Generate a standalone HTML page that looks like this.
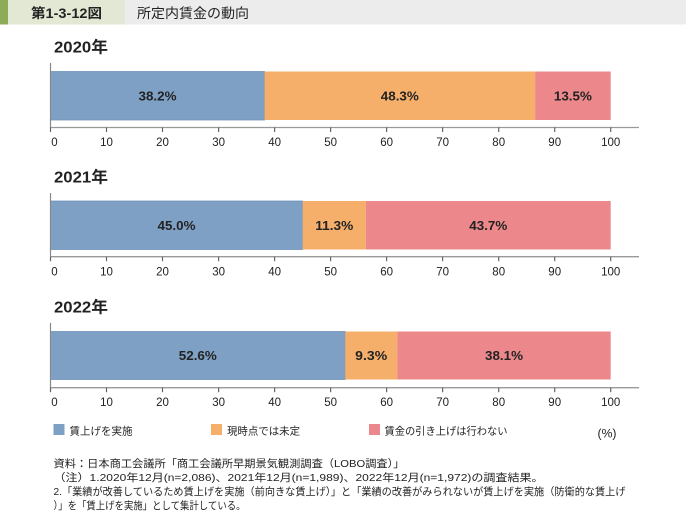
<!DOCTYPE html>
<html>
<head>
<meta charset="utf-8">
<style>
  html,body{margin:0;padding:0;background:#fff;}
  svg{display:block;}
  text{font-family:"Liberation Sans","Noto Sans CJK JP",sans-serif;fill:#222;}
</style>
</head>
<body>
<svg width="687" height="513" viewBox="0 0 687 513" xmlns="http://www.w3.org/2000/svg">
  <!-- header -->
  <rect x="0" y="0" width="8" height="24.5" fill="#8dab58"/>
  <rect x="8" y="0" width="117" height="24.5" fill="#e2e8d3"/>
  <rect x="125" y="0" width="561" height="24.5" fill="#ebeceb"/>
  <text x="31" y="18" font-size="13.5" font-weight="bold" textLength="71" lengthAdjust="spacingAndGlyphs">第1-3-12図</text>
  <text x="137" y="18" font-size="13.5" textLength="112" lengthAdjust="spacingAndGlyphs">所定内賃金の動向</text>

  <!-- Chart 2020 -->
  <text x="54" y="52.5" font-size="16" font-weight="bold" textLength="54" lengthAdjust="spacingAndGlyphs">2020年</text>
  <rect x="50.5" y="71.5" width="214" height="48.5" fill="#7fa0c5" stroke="#7293bb" stroke-width="0.8"/>
  <rect x="264.5" y="71.5" width="270.6" height="48.5" fill="#f5af6b"/>
  <rect x="535.1" y="71.5" width="75.6" height="48.5" fill="#ec888b"/>
  <text x="157.5" y="100.3" font-size="13" font-weight="bold" text-anchor="middle" textLength="38" lengthAdjust="spacingAndGlyphs">38.2%</text>
  <text x="399.8" y="100.3" font-size="13" font-weight="bold" text-anchor="middle" textLength="38" lengthAdjust="spacingAndGlyphs">48.3%</text>
  <text x="572.9" y="100.3" font-size="13" font-weight="bold" text-anchor="middle" textLength="38" lengthAdjust="spacingAndGlyphs">13.5%</text>
  <line x1="50.5" y1="63" x2="50.5" y2="128" stroke="#888" stroke-width="1.2"/>
  <line x1="50.5" y1="127.5" x2="639" y2="127.5" stroke="#999" stroke-width="1.3"/>
  <g stroke="#666" stroke-width="1.2">
    <line x1="50.5" y1="127.5" x2="50.5" y2="132"/>
    <line x1="106.5" y1="127.5" x2="106.5" y2="132"/>
    <line x1="162.5" y1="127.5" x2="162.5" y2="132"/>
    <line x1="218.6" y1="127.5" x2="218.6" y2="132"/>
    <line x1="274.6" y1="127.5" x2="274.6" y2="132"/>
    <line x1="330.6" y1="127.5" x2="330.6" y2="132"/>
    <line x1="386.6" y1="127.5" x2="386.6" y2="132"/>
    <line x1="442.6" y1="127.5" x2="442.6" y2="132"/>
    <line x1="498.7" y1="127.5" x2="498.7" y2="132"/>
    <line x1="554.7" y1="127.5" x2="554.7" y2="132"/>
    <line x1="610.7" y1="127.5" x2="610.7" y2="132"/>
  </g>
  <g font-size="11.5" text-anchor="middle">
    <text x="54.5" y="146">0</text>
    <text x="106.5" y="146">10</text>
    <text x="162.5" y="146">20</text>
    <text x="218.6" y="146">30</text>
    <text x="274.6" y="146">40</text>
    <text x="330.6" y="146">50</text>
    <text x="386.6" y="146">60</text>
    <text x="442.6" y="146">70</text>
    <text x="498.7" y="146">80</text>
    <text x="554.7" y="146">90</text>
    <text x="610.7" y="146">100</text>
  </g>

  <!-- Chart 2021 -->
  <text x="54" y="182.5" font-size="16" font-weight="bold" textLength="54" lengthAdjust="spacingAndGlyphs">2021年</text>
  <rect x="50.5" y="201" width="252.1" height="48.5" fill="#7fa0c5" stroke="#7293bb" stroke-width="0.8"/>
  <rect x="302.6" y="201" width="63.3" height="48.5" fill="#f5af6b"/>
  <rect x="365.9" y="201" width="244.8" height="48.5" fill="#ec888b"/>
  <text x="176.5" y="229.8" font-size="13" font-weight="bold" text-anchor="middle" textLength="38" lengthAdjust="spacingAndGlyphs">45.0%</text>
  <text x="334.3" y="229.8" font-size="13" font-weight="bold" text-anchor="middle" textLength="38" lengthAdjust="spacingAndGlyphs">11.3%</text>
  <text x="488.3" y="229.8" font-size="13" font-weight="bold" text-anchor="middle" textLength="38" lengthAdjust="spacingAndGlyphs">43.7%</text>
  <line x1="50.5" y1="193" x2="50.5" y2="257.2" stroke="#888" stroke-width="1.2"/>
  <line x1="50.5" y1="256.7" x2="639" y2="256.7" stroke="#999" stroke-width="1.3"/>
  <g stroke="#666" stroke-width="1.2">
    <line x1="50.5" y1="256.7" x2="50.5" y2="261.2"/>
    <line x1="106.5" y1="256.7" x2="106.5" y2="261.2"/>
    <line x1="162.5" y1="256.7" x2="162.5" y2="261.2"/>
    <line x1="218.6" y1="256.7" x2="218.6" y2="261.2"/>
    <line x1="274.6" y1="256.7" x2="274.6" y2="261.2"/>
    <line x1="330.6" y1="256.7" x2="330.6" y2="261.2"/>
    <line x1="386.6" y1="256.7" x2="386.6" y2="261.2"/>
    <line x1="442.6" y1="256.7" x2="442.6" y2="261.2"/>
    <line x1="498.7" y1="256.7" x2="498.7" y2="261.2"/>
    <line x1="554.7" y1="256.7" x2="554.7" y2="261.2"/>
    <line x1="610.7" y1="256.7" x2="610.7" y2="261.2"/>
  </g>
  <g font-size="11.5" text-anchor="middle">
    <text x="54.5" y="275.5">0</text>
    <text x="106.5" y="275.5">10</text>
    <text x="162.5" y="275.5">20</text>
    <text x="218.6" y="275.5">30</text>
    <text x="274.6" y="275.5">40</text>
    <text x="330.6" y="275.5">50</text>
    <text x="386.6" y="275.5">60</text>
    <text x="442.6" y="275.5">70</text>
    <text x="498.7" y="275.5">80</text>
    <text x="554.7" y="275.5">90</text>
    <text x="610.7" y="275.5">100</text>
  </g>

  <!-- Chart 2022 -->
  <text x="54" y="312.5" font-size="16" font-weight="bold" textLength="54" lengthAdjust="spacingAndGlyphs">2022年</text>
  <rect x="50.5" y="331.5" width="294.7" height="48" fill="#7fa0c5" stroke="#7293bb" stroke-width="0.8"/>
  <rect x="345.2" y="331.5" width="52.1" height="48" fill="#f5af6b"/>
  <rect x="397.3" y="331.5" width="213.4" height="48" fill="#ec888b"/>
  <text x="197.8" y="360" font-size="13" font-weight="bold" text-anchor="middle" textLength="38" lengthAdjust="spacingAndGlyphs">52.6%</text>
  <text x="371.2" y="360" font-size="13" font-weight="bold" text-anchor="middle" textLength="32" lengthAdjust="spacingAndGlyphs">9.3%</text>
  <text x="504" y="360" font-size="13" font-weight="bold" text-anchor="middle" textLength="38" lengthAdjust="spacingAndGlyphs">38.1%</text>
  <line x1="50.5" y1="323" x2="50.5" y2="388.2" stroke="#888" stroke-width="1.2"/>
  <line x1="50.5" y1="387.7" x2="639" y2="387.7" stroke="#999" stroke-width="1.3"/>
  <g stroke="#666" stroke-width="1.2">
    <line x1="50.5" y1="387.7" x2="50.5" y2="392.2"/>
    <line x1="106.5" y1="387.7" x2="106.5" y2="392.2"/>
    <line x1="162.5" y1="387.7" x2="162.5" y2="392.2"/>
    <line x1="218.6" y1="387.7" x2="218.6" y2="392.2"/>
    <line x1="274.6" y1="387.7" x2="274.6" y2="392.2"/>
    <line x1="330.6" y1="387.7" x2="330.6" y2="392.2"/>
    <line x1="386.6" y1="387.7" x2="386.6" y2="392.2"/>
    <line x1="442.6" y1="387.7" x2="442.6" y2="392.2"/>
    <line x1="498.7" y1="387.7" x2="498.7" y2="392.2"/>
    <line x1="554.7" y1="387.7" x2="554.7" y2="392.2"/>
    <line x1="610.7" y1="387.7" x2="610.7" y2="392.2"/>
  </g>
  <g font-size="11.5" text-anchor="middle">
    <text x="54.5" y="406">0</text>
    <text x="106.5" y="406">10</text>
    <text x="162.5" y="406">20</text>
    <text x="218.6" y="406">30</text>
    <text x="274.6" y="406">40</text>
    <text x="330.6" y="406">50</text>
    <text x="386.6" y="406">60</text>
    <text x="442.6" y="406">70</text>
    <text x="498.7" y="406">80</text>
    <text x="554.7" y="406">90</text>
    <text x="610.7" y="406">100</text>
  </g>

  <!-- Legend -->
  <rect x="53.5" y="424" width="11" height="11" fill="#7fa0c5"/>
  <text x="69.5" y="434.5" font-size="10.5" textLength="63" lengthAdjust="spacingAndGlyphs">賃上げを実施</text>
  <rect x="211" y="424" width="11" height="11" fill="#f5af6b"/>
  <text x="227" y="434.5" font-size="10.5" textLength="73" lengthAdjust="spacingAndGlyphs">現時点では未定</text>
  <rect x="369" y="424" width="11" height="11" fill="#ec888b"/>
  <text x="384.5" y="434.5" font-size="10.5" textLength="123" lengthAdjust="spacingAndGlyphs">賃金の引き上げは行わない</text>
  <text x="597.5" y="437.5" font-size="11.5" textLength="19" lengthAdjust="spacingAndGlyphs">(%)</text>

  <!-- Footnotes -->
  <g font-size="10.5">
    <text x="53.5" y="467" textLength="351" lengthAdjust="spacingAndGlyphs">資料：日本商工会議所「商工会議所早期景気観測調査（LOBO調査）」</text>
    <text x="53.5" y="481" textLength="490" lengthAdjust="spacingAndGlyphs">（注）1.2020年12月(n=2,086)、2021年12月(n=1,989)、2022年12月(n=1,972)の調査結果。</text>
    <text x="53.5" y="495" textLength="572" lengthAdjust="spacingAndGlyphs">2.「業績が改善しているため賃上げを実施（前向きな賃上げ）」と「業績の改善がみられないが賃上げを実施（防衛的な賃上げ</text>
    <text x="53.5" y="509" textLength="192" lengthAdjust="spacingAndGlyphs">）」を「賃上げを実施」として集計している。</text>
  </g>
</svg>
</body>
</html>
